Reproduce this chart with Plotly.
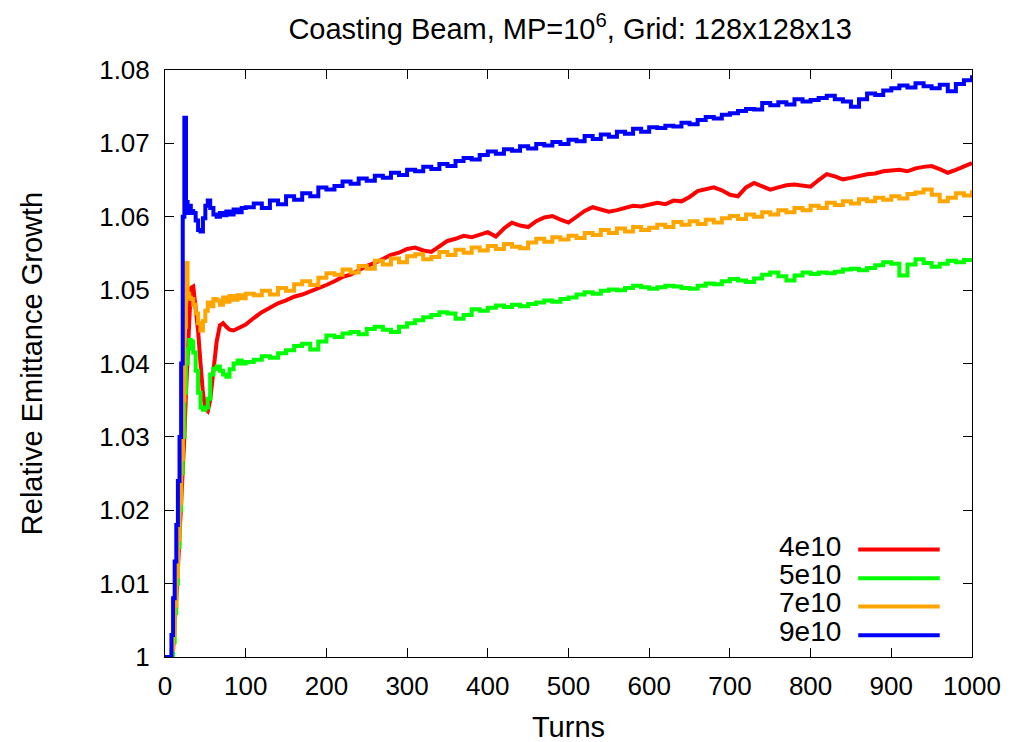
import plotly.graph_objects as go

# turns (dense at the start where the beams jump, then every 10 turns)
turns = [0, 5, 8, 10, 12, 14, 16, 18, 20, 22, 24, 26, 28, 30, 32, 35, 38, 41, 44, 47,
         50, 53, 56, 60, 64, 68, 72, 76, 80, 85, 90, 95, 100] + list(range(110, 1001, 10))

names = ["4e10", "5e10", "7e10", "9e10"]
colors = ["#ff0000", "#00ff00", "#ffa500", "#0000ff"]
# the 4e10 curve is smooth, the others are noisy/stepped
shapes = ["linear", "hv", "hv", "hv"]

growth_4e10 = [
    1.000, 1.000, 1.000, 1.001, 1.004, 1.008, 1.012, 1.016, 1.020, 1.025,
    1.030, 1.036, 1.042, 1.047, 1.0503, 1.0505, 1.0480, 1.0445, 1.0400, 1.0360,
    1.0338, 1.0335, 1.0350, 1.0395, 1.0430, 1.0452, 1.0455, 1.0450, 1.0446, 1.0445,
    1.0448, 1.0451, 1.0453,
    1.0462, 1.0470, 1.0476, 1.0482, 1.0486, 1.0491, 1.0494, 1.0498, 1.0503, 1.0507,
    1.0512, 1.0518, 1.0521, 1.0527, 1.0533, 1.0537, 1.0542, 1.0548, 1.0551, 1.0556,
    1.0558, 1.0554, 1.0552, 1.0560, 1.0567, 1.0570, 1.0574, 1.0572, 1.0576, 1.0579,
    1.0573, 1.0584, 1.0592, 1.0588, 1.0586, 1.0594, 1.0599, 1.0601, 1.0596, 1.0592,
    1.0600, 1.0608, 1.0613, 1.0610, 1.0607, 1.0609, 1.0612, 1.0615, 1.0614, 1.0617,
    1.0619, 1.0617, 1.0622, 1.0621, 1.0627, 1.0635, 1.0638, 1.0640, 1.0636, 1.0630,
    1.0628, 1.0640, 1.0646, 1.0642, 1.0637, 1.0640, 1.0643, 1.0644, 1.0642, 1.0641,
    1.0650, 1.0658, 1.0655, 1.0651, 1.0653, 1.0656, 1.0658, 1.0659, 1.0662, 1.0663,
    1.0664, 1.0662, 1.0666, 1.0668, 1.0669, 1.0665, 1.0660, 1.0664, 1.0669, 1.0673,
]

growth_5e10 = [
    1.000, 1.000, 1.000, 1.002, 1.006, 1.010, 1.015, 1.020, 1.025, 1.030,
    1.036, 1.040, 1.042, 1.0432, 1.0430, 1.0415, 1.0390, 1.0360, 1.0340, 1.0337,
    1.0340, 1.0352, 1.0385, 1.0393, 1.0396, 1.0390, 1.0385, 1.0382, 1.0392, 1.0400,
    1.0404, 1.0400, 1.0402,
    1.0405, 1.0410, 1.0408, 1.0414, 1.0418, 1.0424, 1.0427, 1.0419, 1.0430, 1.0438,
    1.0436, 1.0441, 1.0443, 1.0440, 1.0447, 1.0450, 1.0446, 1.0443, 1.0450, 1.0455,
    1.0459, 1.0463, 1.0466, 1.0470, 1.0468, 1.0461, 1.0466, 1.0474, 1.0472, 1.0476,
    1.0479, 1.0477, 1.0480, 1.0478, 1.0481, 1.0483, 1.0486, 1.0484, 1.0488, 1.0490,
    1.0494, 1.0497, 1.0495, 1.0499, 1.0501, 1.0500, 1.0503, 1.0506, 1.0504, 1.0502,
    1.0504, 1.0506, 1.0505, 1.0503, 1.0502, 1.0506, 1.0509, 1.0508, 1.0512, 1.0515,
    1.0513, 1.0511, 1.0516, 1.0521, 1.0524, 1.0519, 1.0513, 1.0520, 1.0524, 1.0522,
    1.0524, 1.0523, 1.0525, 1.0528, 1.0529, 1.0527, 1.0530, 1.0534, 1.0538, 1.0536,
    1.0520, 1.0535, 1.0542, 1.0537, 1.0532, 1.0536, 1.0540, 1.0538, 1.0541, 1.0542,
]

growth_7e10 = [
    1.000, 1.000, 1.001, 1.003, 1.007, 1.011, 1.016, 1.021, 1.027, 1.035,
    1.045, 1.0537, 1.0495, 1.0490, 1.0488, 1.0480, 1.0468, 1.0455, 1.0445, 1.0458,
    1.0472, 1.0483, 1.0478, 1.0488, 1.0486, 1.0480, 1.0490, 1.0484, 1.0492, 1.0487,
    1.0493, 1.0489, 1.0495,
    1.0493, 1.0499, 1.0494, 1.0503, 1.0499, 1.0508, 1.0512, 1.0507, 1.0517, 1.0523,
    1.0521, 1.0528, 1.0524, 1.0533, 1.0529, 1.0540, 1.0535, 1.0543, 1.0538, 1.0546,
    1.0549, 1.0542, 1.0545, 1.0552, 1.0548, 1.0555, 1.0551, 1.0558, 1.0554, 1.0560,
    1.0556, 1.0563, 1.0559, 1.0557, 1.0565, 1.0570, 1.0566, 1.0572, 1.0569, 1.0574,
    1.0571, 1.0578, 1.0575, 1.0582, 1.0578, 1.0584, 1.0580, 1.0586, 1.0582, 1.0585,
    1.0589, 1.0586, 1.0593, 1.0589, 1.0594, 1.0590, 1.0596, 1.0592, 1.0598, 1.0601,
    1.0597, 1.0603, 1.0600, 1.0606, 1.0603, 1.0609, 1.0606, 1.0612, 1.0609, 1.0615,
    1.0612, 1.0619, 1.0616, 1.0621, 1.0618, 1.0624, 1.0621, 1.0626, 1.0623, 1.0628,
    1.0625, 1.0631, 1.0633, 1.0637, 1.0630, 1.0621, 1.0626, 1.0632, 1.0629, 1.0636,
]

growth_9e10 = [
    1.000, 1.000, 1.003, 1.008, 1.013, 1.018, 1.024, 1.030, 1.040, 1.060,
    1.0735, 1.062, 1.0605, 1.0615, 1.0608, 1.0605, 1.0595, 1.0582, 1.0580, 1.0598,
    1.0615, 1.0622, 1.0612, 1.0603, 1.0600, 1.0605, 1.0602, 1.0607, 1.0603, 1.0610,
    1.0606, 1.0612, 1.0613,
    1.0618, 1.0612, 1.0622, 1.0617, 1.0628, 1.0623, 1.0632, 1.0628, 1.0640, 1.0637,
    1.0642, 1.0648, 1.0645, 1.0652, 1.0649, 1.0656, 1.0653, 1.0660, 1.0657, 1.0664,
    1.0662, 1.0668, 1.0665, 1.0672, 1.0669, 1.0676, 1.0680, 1.0678, 1.0684, 1.0689,
    1.0686, 1.0692, 1.0690, 1.0696, 1.0693, 1.0699, 1.0697, 1.0702, 1.0699, 1.0705,
    1.0703, 1.0710, 1.0706, 1.0712, 1.0709, 1.0716, 1.0713, 1.0720, 1.0716, 1.0722,
    1.0721, 1.0724, 1.0723, 1.0728, 1.0726, 1.0732, 1.0736, 1.0734, 1.0739, 1.0741,
    1.0744, 1.0747, 1.0746, 1.0755, 1.0752, 1.0756, 1.0753, 1.0760, 1.0757, 1.0759,
    1.0762, 1.0765, 1.0760, 1.0757, 1.0750, 1.0760, 1.0768, 1.0766, 1.0772, 1.0775,
    1.0779, 1.0776, 1.0782, 1.0778, 1.0775, 1.0780, 1.0771, 1.0781, 1.0786, 1.0793,
]

y_ticks = [1.00, 1.01, 1.02, 1.03, 1.04, 1.05, 1.06, 1.07, 1.08]
y_ticktext = ["1", "1.01", "1.02", "1.03", "1.04", "1.05", "1.06", "1.07", "1.08"]
x_ticks = list(range(0, 1001, 100))

series = [growth_4e10, growth_5e10, growth_7e10, growth_9e10]
font = "Liberation Sans, Arial, Helvetica, sans-serif"

fig = go.Figure()
for name, col, shp, ys in zip(names, colors, shapes, series):
    fig.add_trace(go.Scatter(x=turns, y=ys, name=name, mode="lines",
                             line=dict(color=col, width=4, shape=shp)))

# gnuplot style key: label on the left, line sample on the right
key_y = [0.183, 0.134, 0.086, 0.037]
for name, col, ky in zip(names, colors, key_y):
    fig.add_shape(type="line", xref="paper", yref="paper",
                  x0=0.859, x1=0.960, y0=ky, y1=ky,
                  line=dict(color=col, width=4))
    fig.add_annotation(text=name, xref="paper", yref="paper", x=0.840, y=ky + 0.006,
                       xanchor="right", yanchor="middle", showarrow=False,
                       font=dict(size=28, color="black"))

fig.update_layout(
    width=1011, height=742,
    margin=dict(l=157, r=47, t=62, b=90),
    paper_bgcolor="white", plot_bgcolor="white",
    showlegend=False,
    font=dict(family=font, size=26, color="black"),
    title=dict(text="Coasting Beam, MP=10<sup>6</sup>, Grid: 128x128x13",
               x=0.556, xanchor="center", y=0.972, yanchor="middle",
               font=dict(size=29)),
    xaxis=dict(range=[0, 1000], tickvals=x_ticks, ticks="inside", ticklen=9,
               showline=True, linecolor="black", linewidth=1, mirror="ticks",
               showgrid=False, zeroline=False, tickcolor="black",
               ticklabelstandoff=6,
               title=dict(text="Turns", standoff=16, font=dict(size=29))),
    yaxis=dict(range=[1.0, 1.08], tickvals=y_ticks, ticktext=y_ticktext,
               ticks="inside", ticklen=9,
               showline=True, linecolor="black", linewidth=1, mirror="ticks",
               showgrid=False, zeroline=False, tickcolor="black",
               ticklabelstandoff=9,
               title=dict(text="Relative Emittance Growth", standoff=48, font=dict(size=29))),
)

fig.write_html("out.html")
